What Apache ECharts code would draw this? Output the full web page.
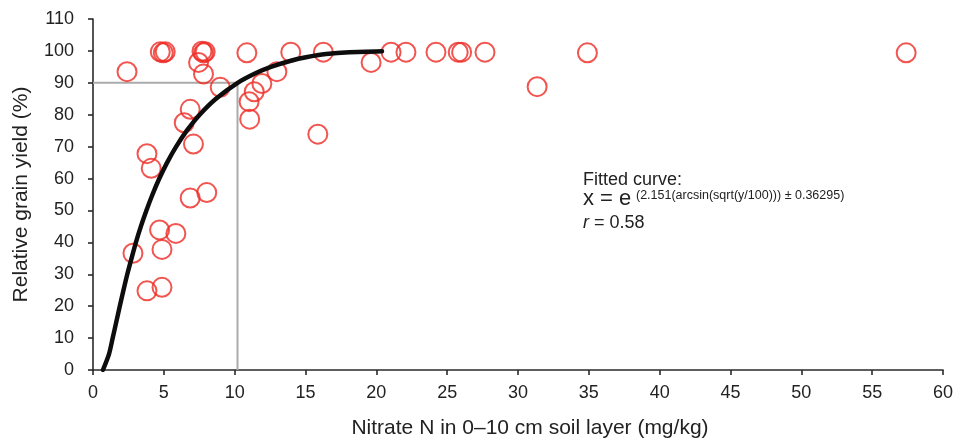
<!DOCTYPE html>
<html>
<head>
<meta charset="utf-8">
<script src="https://cdn.jsdelivr.net/npm/echarts@6/dist/echarts.min.js"></script>
<style>
  html, body { margin: 0; padding: 0; background: #fff; }
  #chart { width: 955px; height: 439px; }
</style>
</head>
<body>
<div id="chart"></div>
<script>
// Observed nitrate N (mg/kg) and relative grain yield (%)
const nitrateN = [
  2.40, 4.75, 4.96, 5.10, 7.69, 7.80, 7.92, 7.45, 7.80, 8.98,
  10.86, 12.98, 11.92, 11.38, 11.02, 11.06, 6.86, 6.44, 7.09, 3.81,
  4.11, 6.86, 8.03, 4.70, 5.85, 4.87, 2.82, 3.81, 4.87, 13.96,
  16.26, 15.87, 19.63, 21.04, 22.09, 24.21, 25.78, 26.02, 27.67, 31.35,
  34.90, 57.40
];
const relYield = [
  93.5, 99.7, 99.4, 99.7, 99.9, 99.4, 99.7, 96.4, 92.8, 88.6,
  99.4, 93.5, 89.8, 87.2, 84.1, 78.6, 81.7, 77.5, 70.8, 67.8,
  63.2, 53.9, 55.6, 43.9, 42.8, 37.8, 36.6, 24.8, 25.9, 99.6,
  99.6, 73.9, 96.4, 99.6, 99.6, 99.6, 99.6, 99.6, 99.6, 88.8,
  99.4, 99.4
];

// Fitted response curve, sampled along its length
const curveN = [
  0.70, 1.13, 1.39, 1.64, 1.89, 2.15, 2.42, 2.72,
  3.03, 3.38, 3.77, 4.20, 4.68, 5.23, 5.87, 6.62, 7.53, 8.68,
  10.21, 11.47, 12.56, 14.03, 15.04, 16.45, 18.10, 20.40
];
const curveYield = [
  0, 5, 10, 15, 20, 25, 30, 35,
  40, 45, 50, 55, 60, 65, 70, 75, 80, 85,
  90, 93, 95, 97, 98, 99, 99.6, 99.9
];

// Critical level: 90 % relative yield
const criticalN = 10.2;
const criticalYield = 90;

const xTicks = { min: 0, max: 60, step: 5 };
const yTicks = { min: 0, max: 110, step: 10 };

const FONT = '"Liberation Sans", Arial, Helvetica, sans-serif';

const points = nitrateN.map((x, i) => [x, relYield[i]]);
const curve = curveN.map((x, i) => [x, curveYield[i]]);
const guide = [[0, criticalYield], [criticalN, criticalYield], [criticalN, 0]];

const chart = echarts.init(document.getElementById('chart'), null, { renderer: 'canvas' });

const axisCommon = {
  axisLine: { show: true, onZero: false, lineStyle: { color: '#2a2a2a', width: 1.6 } },
  axisTick: { show: true, inside: false, length: 5, lineStyle: { color: '#2a2a2a', width: 1.6 } },
  splitLine: { show: false },
  axisLabel: { color: '#222', fontFamily: FONT, fontSize: 18 },
  nameTextStyle: { color: '#222', fontFamily: FONT, fontSize: 21 }
};

chart.setOption({
  animation: false,
  backgroundColor: '#fff',
  grid: { left: 93, right: 12, top: 19, bottom: 69, containLabel: false, outerBoundsMode: 'none' },
  xAxis: Object.assign({}, axisCommon, {
    type: 'value',
    min: xTicks.min, max: xTicks.max, interval: xTicks.step,
    name: 'Nitrate N in 0\u201310 cm soil layer (mg/kg)',
    nameLocation: 'middle', nameGap: 48,
    nameTextStyle: Object.assign({}, axisCommon.nameTextStyle, { padding: [0, 0, 0, 24] }),
    axisLabel: Object.assign({}, axisCommon.axisLabel, { margin: 14 })
  }),
  yAxis: Object.assign({}, axisCommon, {
    type: 'value',
    min: yTicks.min, max: yTicks.max, interval: yTicks.step,
    name: 'Relative grain yield (%)',
    nameLocation: 'middle', nameGap: 61,
    axisLabel: Object.assign({}, axisCommon.axisLabel, { margin: 19 })
  }),
  series: [
    {
      type: 'line',
      data: guide,
      symbol: 'none',
      lineStyle: { color: '#ababab', width: 2 },
      z: 1,
      silent: true
    },
    {
      type: 'scatter',
      data: points,
      symbol: 'circle',
      symbolSize: 19,
      itemStyle: { color: 'rgba(255,255,255,0)', borderColor: '#ee2a24', borderWidth: 2 },
      z: 2
    },
    {
      type: 'line',
      data: curve,
      symbol: 'none',
      smooth: 0.25,
      lineStyle: { color: '#0d0d0d', width: 4.5, cap: 'round', join: 'round' },
      z: 3,
      silent: true
    }
  ],
  graphic: [
    {
      type: 'text', left: 583, top: 171,
      style: { text: 'Fitted curve:', fill: '#222', font: '18px ' + FONT }
    },
    {
      type: 'text', left: 583, top: 188,
      style: { text: 'x = e', fill: '#222', font: '22px ' + FONT }
    },
    {
      type: 'text', left: 636, top: 189,
      style: { text: '(2.151(arcsin(sqrt(y/100))) \u00b1 0.36295)', fill: '#222', font: '12.5px ' + FONT }
    },
    {
      type: 'text', left: 583, top: 214,
      style: {
        text: '{i|r} = 0.58',
        fill: '#222',
        font: '18px ' + FONT,
        rich: { i: { fontStyle: 'italic', fontSize: 18, fontFamily: FONT, fill: '#222' } }
      }
    }
  ]
});
</script>
</body>
</html>
